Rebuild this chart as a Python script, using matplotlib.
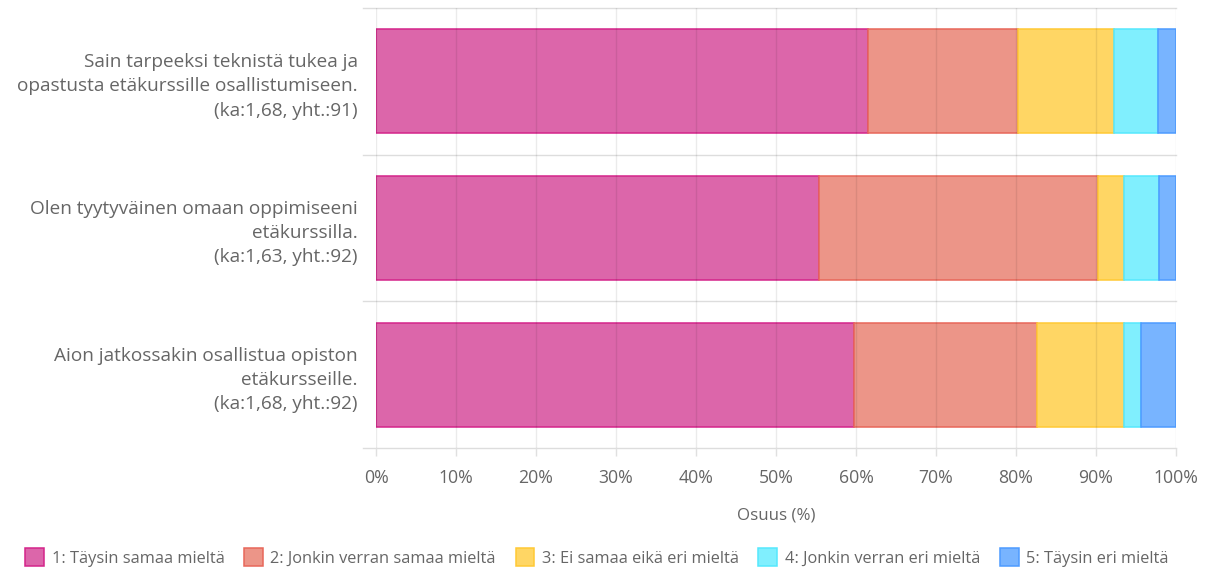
import matplotlib.pyplot as plt
import numpy as np
from matplotlib.patches import Patch
from matplotlib.transforms import blended_transform_factory

plt.rcParams['font.family'] = ['Open Sans', 'DejaVu Sans']

questions = [
    "Sain tarpeeksi teknistä tukea ja\nopastusta etäkurssille osallistumiseen.\n(ka:1,68, yht.:91)",
    "Olen tyytyväinen omaan oppimiseeni\netäkurssilla.\n(ka:1,63, yht.:92)",
    "Aion jatkossakin osallistua opiston\netäkursseille.\n(ka:1,68, yht.:92)",
]
answers = [
    "1: Täysin samaa mieltä",
    "2: Jonkin verran samaa mieltä",
    "3: Ei samaa eikä eri mieltä",
    "4: Jonkin verran eri mieltä",
    "5: Täysin eri mieltä",
]
# answer counts per question (columns = answers 1..5)
counts = np.array([
    [56, 17, 11, 5, 2],
    [51, 32, 3, 4, 2],
    [55, 21, 10, 2, 4],
])
fills = ['#dc66aa', '#ec9588', '#ffd664', '#80effe', '#78b4ff']
edges = ['#d4248a', '#e8675a', '#ffc935', '#55e8fd', '#4d9bff']

shares = counts / counts.sum(axis=1, keepdims=True) * 100
text_col = '#666666'

fig = plt.figure(figsize=(12.06, 5.71), dpi=100)
ax = fig.add_axes([376 / 1206, 1 - 448 / 571, 800 / 1206, 440 / 571])

y = np.arange(len(questions))
left = np.zeros(len(questions))
for i in range(len(answers)):
    ax.barh(y, shares[:, i], left=left, height=0.71, color=fills[i],
            edgecolor=edges[i], linewidth=1.1, zorder=1)
    left += shares[:, i]

ax.set_xlim(0, 100)
ax.set_ylim(2.5, -0.5)
ax.set_xticks(np.arange(0, 101, 10))
ax.set_xticklabels([f"{v}%" for v in range(0, 101, 10)])
ax.set_yticks(y)
ax.set_yticklabels(questions, linespacing=1.45)
ax.tick_params(axis='y', length=0, pad=13, labelsize=13.7, labelcolor=text_col)
ax.tick_params(axis='x', length=6, width=1, color='#e0e0e0', pad=9,
               labelsize=12.7, labelcolor=text_col)
ax.set_axisbelow(False)
ax.grid(axis='x', color='black', alpha=0.08, linewidth=1, zorder=3)
for s in ax.spines.values():
    s.set_visible(False)

# category separator lines, extending slightly left of the plot area
tr = blended_transform_factory(ax.transAxes, ax.transData)
for yy in [-0.5, 0.5, 1.5, 2.5]:
    ax.plot([-0.0165, 1], [yy, yy], transform=tr, color='#dddddd',
            linewidth=1, clip_on=False, zorder=0)

ax.set_xlabel("Osuus (%)", fontsize=12.2, color=text_col, labelpad=15)

handles = [Patch(facecolor=fills[i], edgecolor=edges[i], linewidth=1.1)
           for i in range(len(answers))]
fig.legend(handles, answers, loc='lower center', ncol=5, frameon=False,
           bbox_to_anchor=(0.495, -0.018), fontsize=11.8, labelcolor=text_col,
           handlelength=1.15, handleheight=1.3, handletextpad=0.45,
           columnspacing=1.2)

fig.savefig("out.png", dpi=100)
